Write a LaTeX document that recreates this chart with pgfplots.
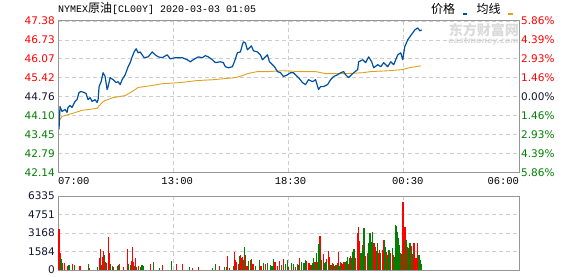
\documentclass[border=0pt]{standalone}
\usepackage{pgfplots}
\pgfplotsset{compat=1.18}
\usepackage{fontspec}
\setmainfont{DejaVu Sans}
\newfontfamily\cjk{Noto Sans CJK SC}
\newfontfamily\mono{Liberation Mono}
\definecolor{pblue}{RGB}{0,80,160}
\definecolor{pgold}{RGB}{222,160,30}
\definecolor{ured}{RGB}{255,0,0}
\definecolor{dgreen}{RGB}{0,128,0}
\definecolor{framec}{RGB}{150,150,150}
\definecolor{gridc}{RGB}{205,205,205}
\definecolor{wm}{RGB}{218,218,218}
\definecolor{dark}{RGB}{20,20,50}
\pgfplotsset{base/.style={scale only axis, anchor=south west, width=461pt,
  xmin=0, xmax=1380, xtick={0,345,690,1035,1380},
  major tick length=0pt,
  axis line style={framec, line width=1pt},
  grid style={gridc, dash pattern=on 4pt off 3pt, line width=0.8pt},
  tick label style={font=\fontsize{10.5}{12}\selectfont},
  yticklabel style={inner sep=0pt, anchor=east, xshift=-3pt},
  xticklabel style={inner sep=0pt, anchor=north, yshift=-5pt, font=\mono\fontsize{10.5}{12}\selectfont},
}}
\begin{document}
\begin{tikzpicture}
\useasboundingbox (0,0) rectangle (578pt,276pt);
% watermark
\node[anchor=east, inner sep=0pt, text=wm, font=\cjk\bfseries\fontsize{14}{14}\selectfont] at (519pt,246pt) {东方财富网};
\node[anchor=east, inner sep=0pt, text=wm, font=\bfseries\itshape\fontsize{8}{8}\selectfont] at (519pt,234.5pt) {eastmoney.com};
% title
\node[anchor=west, inner sep=0pt] at (58pt,267.5pt) {{\mono\fontsize{10}{12}\selectfont NYMEX}{\cjk\fontsize{12}{12}\selectfont 原油}{\mono\fontsize{10}{12}\selectfont [CL00Y] 2020-03-03 01:05}};
% legend
\node[anchor=center, inner sep=0pt, font=\cjk\fontsize{12}{12}\selectfont] at (443pt,267pt) {价格};
\fill[pblue] (462.7pt,260.7pt) rectangle (467.3pt,263.3pt);
\node[anchor=center, inner sep=0pt, font=\cjk\fontsize{12}{12}\selectfont] at (488.5pt,267pt) {均线};
\fill[pgold] (508.3pt,260.7pt) rectangle (512.7pt,263.3pt);

% price axis
\begin{axis}[base, at={(58pt,103.5pt)}, height=151.5pt,
  ymin=42.14, ymax=47.38,
  ytick={42.14,42.795,43.45,44.105,44.76,45.415,46.07,46.725,47.38},
  yticklabels={{\color{dgreen}42.14},{\color{dgreen}42.79},{\color{dgreen}43.45},{\color{dgreen}44.10},{\color{dark}44.76},{\color{ured}45.42},{\color{ured}46.07},{\color{ured}46.73},{\color{ured}47.38}},
  xticklabels={{\makebox[0pt][l]{07:00}},{\makebox[0pt][c]{\hspace*{8pt}13:00}},{\makebox[0pt][c]{\hspace*{4pt}18:30}},{\makebox[0pt][c]{\hspace*{8pt}00:30}},{\makebox[0pt][r]{06:00}}},
  xmajorgrids, ymajorgrids]
\addplot[pgold, line width=0.9pt] coordinates {(3,43.94)(6,43.98)(12,44.08)(42,44.18)(72,44.29)(117,44.36)(132,44.56)(141,44.63)(165,44.73)(201,44.80)(222,44.94)(240,45.08)(282,45.15)(312,45.21)(366,45.25)(417,45.32)(465,45.35)(501,45.39)(531,45.42)(552,45.49)(567,45.56)(597,45.63)(630,45.63)(672,45.66)(726,45.63)(771,45.63)(801,45.56)(861,45.56)(912,45.59)(936,45.63)(990,45.66)(1032,45.70)(1050,45.76)(1086,45.83)};
\addplot[pblue, line width=1.2pt, line join=round] coordinates {(3,43.63)(6,44.42)(12,44.25)(21,44.32)(27,44.22)(30,44.39)(36,44.46)(42,44.39)(51,44.60)(57,44.66)(63,44.91)(69,44.94)(78,44.91)(84,44.87)(90,44.66)(96,44.73)(102,44.60)(111,44.66)(117,44.56)(120,44.66)(123,45.11)(129,45.28)(135,45.59)(141,45.46)(147,45.01)(150,45.11)(156,45.42)(165,45.35)(174,45.25)(180,45.28)(186,45.18)(192,45.35)(201,45.52)(210,45.80)(216,45.94)(222,46.14)(228,46.31)(234,46.42)(240,46.28)(246,46.31)(252,46.21)(258,46.11)(270,46.14)(282,46.31)(291,46.21)(300,46.14)(312,46.11)(327,46.21)(336,46.07)(351,46.11)(372,46.11)(387,46.04)(396,45.97)(405,46.04)(420,46.14)(432,46.11)(441,46.18)(450,46.14)(462,46.04)(471,45.94)(486,45.97)(495,45.94)(501,45.80)(510,45.76)(522,45.80)(528,45.97)(537,46.28)(546,46.31)(552,46.56)(555,46.66)(561,46.62)(567,46.38)(573,46.45)(579,46.52)(585,46.35)(597,46.31)(606,46.21)(612,46.04)(621,46.14)(627,46.21)(633,45.97)(642,45.87)(648,45.80)(657,45.63)(666,45.59)(675,45.46)(687,45.52)(696,45.59)(705,45.59)(711,45.52)(720,45.42)(732,45.25)(741,45.18)(750,45.35)(762,45.28)(771,45.35)(780,45.01)(786,45.11)(795,45.11)(807,45.18)(816,45.35)(825,45.46)(837,45.52)(846,45.59)(855,45.63)(861,45.52)(870,45.42)(876,45.49)(885,45.59)(897,45.70)(900,45.97)(912,46.04)(921,45.94)(930,46.14)(939,45.97)(945,45.76)(957,45.87)(966,45.80)(975,45.94)(987,45.80)(996,45.97)(1005,45.87)(1017,46.21)(1026,46.28)(1032,46.04)(1038,46.49)(1047,46.73)(1053,46.83)(1062,46.97)(1068,47.07)(1077,47.14)(1083,47.04)(1089,47.07)};
\end{axis}
% right percentage labels
\begin{axis}[base, at={(58pt,103.5pt)}, height=151.5pt,
  ymin=42.14, ymax=47.38,
  ytick={42.14,42.795,43.45,44.105,44.76,45.415,46.07,46.725,47.38},
  yticklabel pos=right,
  yticklabel style={anchor=west, xshift=5pt},
  yticklabels={{\color{dgreen}5.86\%},{\color{dgreen}4.39\%},{\color{dgreen}2.93\%},{\color{dgreen}1.46\%},{\color{dark}0.00\%},{\color{ured}1.46\%},{\color{ured}2.93\%},{\color{ured}4.39\%},{\color{ured}5.86\%}},
  xticklabels={}]
\end{axis}

% volume axis
\begin{axis}[base, at={(58pt,6pt)}, height=74pt,
  ymin=0, ymax=6335,
  ytick={0,1583.75,3167.5,4751.25,6335},
  yticklabels={{\color{dark}0},{\color{dark}1584},{\color{dark}3168},{\color{dark}4751},{\color{dark}6335}},
  xticklabels={},
  xmajorgrids, ymajorgrids]
\addplot[ycomb, ured, line width=1.3pt, mark=none] coordinates {(3,3477)(6,1425)(13,627)(19,570)(29,342)(43,485)(65,342)(68,342)(94,171)(124,998)(127,1796)(133,1112)(136,1625)(142,712)(146,627)(151,2822)(154,1482)(167,228)(184,513)(196,228)(208,1796)(220,798)(223,1995)(226,712)(232,1026)(235,285)(241,342)(277,513)(313,427)(355,513)(373,513)(403,171)(421,228)(484,342)(508,1197)(514,171)(529,1568)(532,855)(535,712)(541,513)(547,1282)(550,998)(553,1083)(561,1254)(566,342)(576,855)(584,513)(608,342)(622,513)(650,712)(658,342)(664,798)(676,912)(691,285)(698,399)(711,285)(723,998)(729,712)(734,570)(744,798)(751,570)(756,399)(766,399)(769,656)(776,684)(779,1482)(784,2900)(794,1400)(804,912)(809,1625)(813,1140)(816,399)(824,485)(828,342)(836,570)(840,1539)(846,712)(851,513)(856,656)(868,513)(871,485)(876,1197)(881,712)(891,998)(896,3192)(899,3648)(903,2500)(908,912)(911,2137)(920,1197)(926,1425)(930,2337)(943,798)(946,2280)(950,1938)(958,1425)(962,1700)(971,1710)(976,2565)(981,1568)(984,1567)(986,1282)(996,1425)(1004,1282)(1006,1140)(1022,1767)(1026,1482)(1033,5842)(1036,3192)(1039,3648)(1046,1995)(1056,2137)(1058,2052)(1061,1368)(1066,2280)(1068,2337)(1072,997)(1076,2337)(1080,798)};
\addplot[ycomb, dgreen, line width=1.3pt, mark=none] coordinates {(9,940)(33,427)(49,400)(91,513)(119,228)(130,427)(139,1254)(158,513)(163,342)(178,342)(181,427)(211,513)(217,427)(229,342)(247,285)(250,400)(253,427)(256,342)(286,684)(304,171)(340,798)(394,228)(463,171)(472,513)(499,228)(505,228)(526,342)(544,1197)(556,855)(559,1967)(571,798)(579,969)(591,342)(604,855)(616,570)(628,627)(636,456)(641,342)(646,912)(670,399)(682,513)(686,855)(699,570)(706,513)(716,484)(718,456)(728,684)(736,570)(739,513)(741,855)(759,427)(761,570)(764,998)(771,627)(774,1425)(781,2223)(789,855)(798,627)(802,712)(812,399)(819,427)(822,570)(831,427)(834,399)(841,370)(848,627)(861,712)(864,798)(866,1140)(872,998)(878,998)(882,1539)(886,1767)(907,1425)(912,1767)(916,3562)(931,2280)(934,3135)(938,2394)(941,3277)(954,1653)(956,2280)(966,1482)(978,2565)(980,1938)(988,1140)(991,1710)(992,1653)(1001,1909)(1008,1140)(1011,3848)(1014,3762)(1016,3277)(1018,2707)(1021,2137)(1030,1368)(1041,2565)(1042,2565)(1050,1852)(1051,1710)(1054,2337)(1065,1653)(1081,1282)(1084,855)(1087,513)};
\end{axis}
\end{tikzpicture}
\end{document}
